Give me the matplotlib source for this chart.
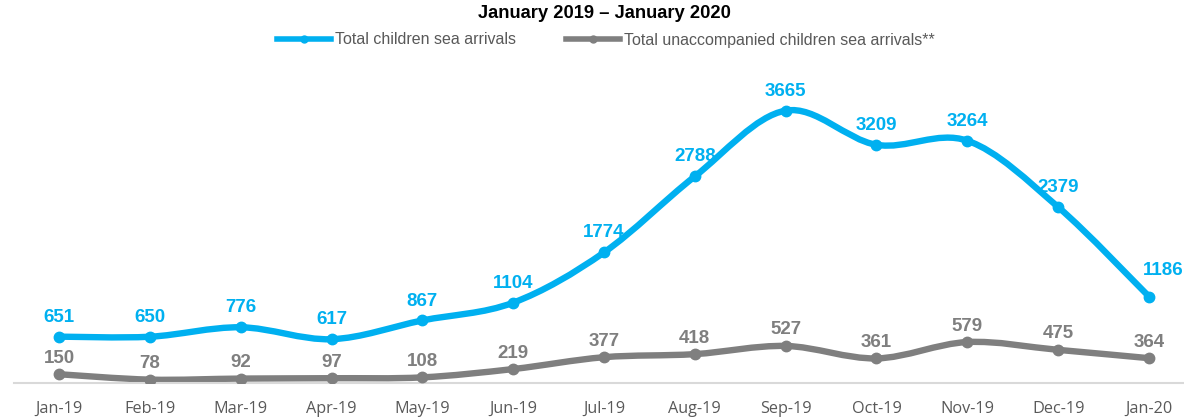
import matplotlib.pyplot as plt
import numpy as np
from matplotlib.path import Path
from matplotlib.patches import PathPatch
from matplotlib.lines import Line2D

months = ["Jan-19", "Feb-19", "Mar-19", "Apr-19", "May-19", "Jun-19", "Jul-19",
          "Aug-19", "Sep-19", "Oct-19", "Nov-19", "Dec-19", "Jan-20"]
children = [651, 650, 776, 617, 867, 1104, 1774, 2788, 3665, 3209, 3264, 2379, 1186]
unaccompanied = [150, 78, 92, 97, 108, 219, 377, 418, 527, 361, 579, 475, 364]

blue = "#00B0F0"
grey = "#7F7F7F"


def smooth_path(x, y):
    # Excel-like smoothed line: cubic Bezier through the points
    x = np.asarray(x, float)
    y = np.asarray(y, float)
    verts = [(x[0], y[0])]
    codes = [Path.MOVETO]
    n = len(x)
    for i in range(n - 1):
        p0 = (x[max(i - 1, 0)], y[max(i - 1, 0)])
        p1 = (x[i], y[i])
        p2 = (x[i + 1], y[i + 1])
        p3 = (x[min(i + 2, n - 1)], y[min(i + 2, n - 1)])
        c1 = (p1[0] + (p2[0] - p0[0]) / 6, p1[1] + (p2[1] - p0[1]) / 6)
        c2 = (p2[0] - (p3[0] - p1[0]) / 6, p2[1] - (p3[1] - p1[1]) / 6)
        verts += [c1, c2, p2]
        codes += [Path.CURVE4] * 3
    return Path(verts, codes)


fig = plt.figure(figsize=(11.84, 4.17), dpi=100)
ax = fig.add_axes([13.6 / 1184, 34 / 417, 1 - 13.6 / 1184, (383 - 60) / 417])
x = np.arange(len(months))

for vals, col, dy in [(children, blue, 14), (unaccompanied, grey, 11.5)]:
    ax.add_patch(PathPatch(smooth_path(x, vals), fill=False, edgecolor=col,
                           lw=4.6, capstyle="round", joinstyle="round"))
    ax.plot(x, vals, "o", color=col, ms=7.5, zorder=3)
    for i, (xi, v) in enumerate(zip(x, vals)):
        off = (0, dy)
        if col == blue and i == len(vals) - 1:
            off = (10, 19)  # last label nudged to stay clear of the line
        ax.annotate(str(v), (xi, v), xytext=off, textcoords="offset points",
                    ha="center", va="center", color=col, fontsize=13.5,
                    fontweight="bold", family="Liberation Sans")

ax.set_xlim(-0.5, -0.5 + 1170.4 / 90.83)
ax.set_ylim(33, 4340)
ax.set_xticks(x)
ax.set_xticklabels(months, fontsize=11.7, color="#595959", family="Open Sans")
ax.tick_params(axis="x", length=0, pad=13)
ax.set_yticks([])
for s in ["top", "right", "left"]:
    ax.spines[s].set_visible(False)
ax.spines["bottom"].set_color("#D9D9D9")
ax.spines["bottom"].set_linewidth(1.5)

fig.text(604 / 1184, 1 - 14 / 417, "January 2019 \u2013 January 2020", ha="center",
         va="center", fontsize=13.2, fontweight="bold", family="Liberation Sans")

handles = [Line2D([], [], color=blue, lw=4, marker="o", ms=5),
           Line2D([], [], color=grey, lw=4, marker="o", ms=5)]
fig.legend(handles, ["Total children sea arrivals",
                     "Total unaccompanied children sea arrivals**"],
           loc="center", bbox_to_anchor=(606 / 1184, 1 - 40 / 417), ncol=2,
           frameon=False, handlelength=3.4, handletextpad=0.25,
           columnspacing=3.1, prop={"family": "Liberation Sans", "size": 11.5},
           labelcolor="#595959", borderpad=0)

fig.savefig("out.png", dpi=100)
